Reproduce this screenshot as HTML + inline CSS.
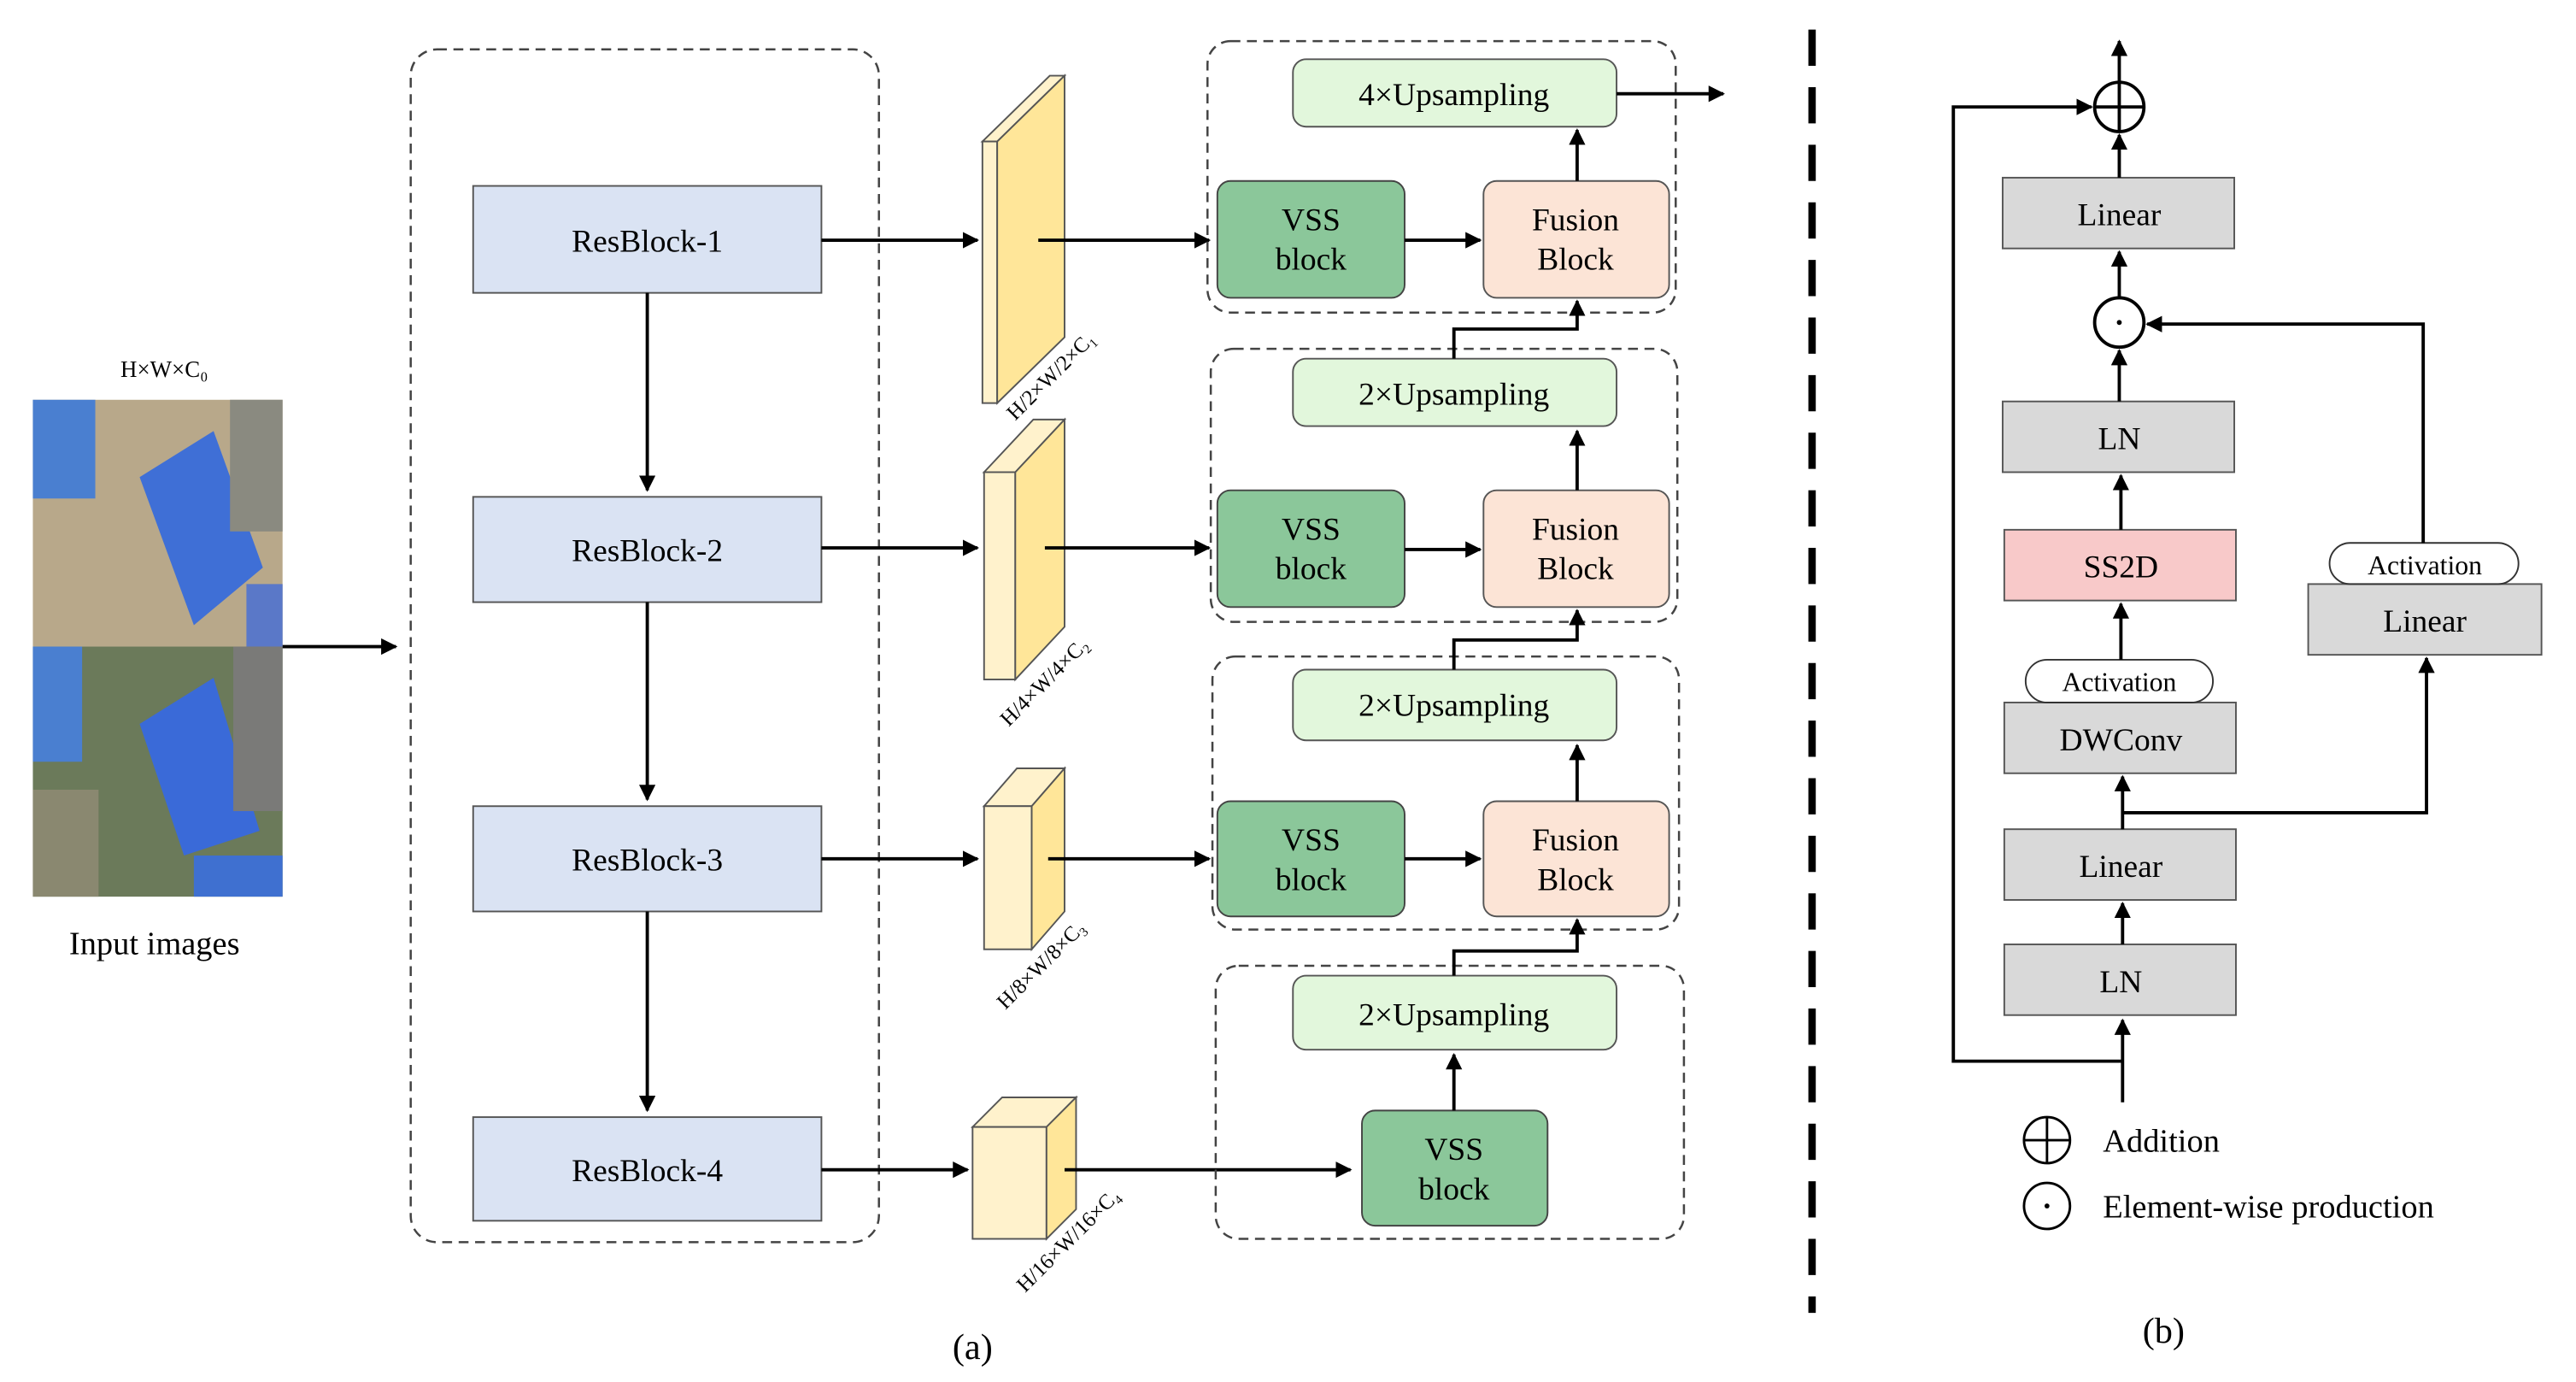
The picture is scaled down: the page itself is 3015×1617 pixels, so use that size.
<!DOCTYPE html>
<html><head><meta charset="utf-8"><style>html,body{margin:0;padding:0;background:#fff}svg{display:block}</style></head><body>
<svg width="3015" height="1617" viewBox="0 0 1568 840" preserveAspectRatio="none" xmlns="http://www.w3.org/2000/svg" font-family="Liberation Serif, serif">
<defs>
<marker id="ah" viewBox="0 0 10 10" refX="9" refY="5" markerWidth="5" markerHeight="5" orient="auto-start-reverse" markerUnits="strokeWidth"><path d="M0,0 L10,5 L0,10 z" fill="#000"/></marker>
</defs>
<rect width="1568" height="840" fill="#fff"/>
<text x="100" y="229" font-size="14" text-anchor="middle">H×W×C₀</text>
<g>
<rect x="20" y="243" width="152" height="150" fill="#b8a88a"/>
<rect x="20" y="243" width="38" height="60" fill="#4a7fd0"/>
<polygon points="85,290 130,262 160,345 118,380" fill="#3f6fd6"/>
<rect x="140" y="243" width="32" height="80" fill="#8a8a80"/>
<rect x="150" y="355" width="22" height="38" fill="#5a78c8"/>
<rect x="20" y="393" width="152" height="152" fill="#6b7a5a"/>
<rect x="20" y="393" width="30" height="70" fill="#4a7fd0"/>
<polygon points="85,440 130,412 158,505 112,520" fill="#3a6ad8"/>
<rect x="142" y="393" width="30" height="100" fill="#7a7a78"/>
<rect x="118" y="520" width="54" height="25" fill="#3f70d0"/>
<rect x="20" y="480" width="40" height="65" fill="#8a8870"/>
</g>
<text x="94" y="580" font-size="20" text-anchor="middle">Input images</text>
<line x1="172" y1="393" x2="241" y2="393" stroke="#000" stroke-width="2" marker-end="url(#ah)"/>
<rect x="250" y="30" width="285" height="725" rx="16" fill="none" stroke="#444" stroke-width="1.3" stroke-dasharray="6,4"/>
<g fill="#dae3f3" stroke="#555" stroke-width="1">
<rect x="288" y="113" width="212" height="65"/><rect x="288" y="302" width="212" height="64"/>
<rect x="288" y="490" width="212" height="64"/><rect x="288" y="679" width="212" height="63"/></g>
<g font-size="19.5" text-anchor="middle">
<text x="394" y="153">ResBlock-1</text><text x="394" y="341">ResBlock-2</text>
<text x="394" y="529">ResBlock-3</text><text x="394" y="718">ResBlock-4</text></g>
<g stroke="#000" stroke-width="2" marker-end="url(#ah)">
<line x1="394" y1="178" x2="394" y2="298"/><line x1="394" y1="366" x2="394" y2="486"/><line x1="394" y1="554" x2="394" y2="675"/>
<line x1="500" y1="146" x2="595" y2="146"/><line x1="500" y1="333" x2="595" y2="333"/><line x1="500" y1="522" x2="595" y2="522"/><line x1="500" y1="711" x2="589" y2="711"/>
</g>
<g stroke="#555" stroke-width="1">
<polygon points="598,86 607,86 648,46 639,46" fill="#fff2cc"/>
<rect x="598" y="86" width="9" height="159" fill="#fff2cc"/>
<polygon points="607,86 648,46 648,205 607,245" fill="#ffe699"/>
<polygon points="599,287 618,287 648,255 629,255" fill="#fff2cc"/>
<rect x="599" y="287" width="19" height="126" fill="#fff2cc"/>
<polygon points="618,287 648,255 648,381 618,413" fill="#ffe699"/>
<polygon points="599,490 628,490 648,467 619,467" fill="#fff2cc"/>
<rect x="599" y="490" width="29" height="87" fill="#fff2cc"/>
<polygon points="628,490 648,467 648,554 628,577" fill="#ffe699"/>
<polygon points="592,685 637,685 655,667 610,667" fill="#fff2cc"/>
<rect x="592" y="685" width="45" height="68" fill="#fff2cc"/>
<polygon points="637,685 655,667 655,735 637,753" fill="#ffe699"/>
</g>
<g font-size="13">
<text transform="translate(618,256) rotate(-45)">H/2×W/2×C₁</text>
<text transform="translate(614,442) rotate(-45)">H/4×W/4×C₂</text>
<text transform="translate(612,614) rotate(-45)">H/8×W/8×C₃</text>
<text transform="translate(624,786) rotate(-45)">H/16×W/16×C₄</text>
</g>
<g stroke="#000" stroke-width="2" marker-end="url(#ah)">
<line x1="632" y1="146" x2="736" y2="146"/><line x1="636" y1="333" x2="736" y2="333"/><line x1="638" y1="522" x2="736" y2="522"/><line x1="648" y1="711" x2="822" y2="711"/>
</g>
<g fill="none" stroke="#444" stroke-width="1.3" stroke-dasharray="6,4">
<rect x="735" y="25" width="285" height="165" rx="14"/><rect x="737" y="212" width="284" height="166" rx="14"/>
<rect x="738" y="399" width="284" height="166" rx="14"/><rect x="740" y="587" width="285" height="166" rx="14"/></g>
<g fill="#e2f7dc" stroke="#555" stroke-width="1">
<rect x="787" y="36" width="197" height="41" rx="8"/><rect x="787" y="218" width="197" height="41" rx="8"/>
<rect x="787" y="407" width="197" height="43" rx="8"/><rect x="787" y="593" width="197" height="45" rx="8"/></g>
<g fill="#8bc79a" stroke="#444" stroke-width="1">
<rect x="741" y="110" width="114" height="71" rx="8"/><rect x="741" y="298" width="114" height="71" rx="8"/>
<rect x="741" y="487" width="114" height="70" rx="8"/><rect x="829" y="675" width="113" height="70" rx="8"/></g>
<g fill="#fce4d6" stroke="#555" stroke-width="1">
<rect x="903" y="110" width="113" height="71" rx="8"/><rect x="903" y="298" width="113" height="71" rx="8"/>
<rect x="903" y="487" width="113" height="70" rx="8"/></g>
<g font-size="19.5" text-anchor="middle">
<text x="885" y="64">4×Upsampling</text><text x="885" y="246">2×Upsampling</text>
<text x="885" y="435">2×Upsampling</text><text x="885" y="623">2×Upsampling</text>
<text x="798" y="140">VSS</text><text x="798" y="164">block</text>
<text x="798" y="328">VSS</text><text x="798" y="352">block</text>
<text x="798" y="517">VSS</text><text x="798" y="541">block</text>
<text x="885" y="705">VSS</text><text x="885" y="729">block</text>
<text x="959" y="140">Fusion</text><text x="959" y="164">Block</text>
<text x="959" y="328">Fusion</text><text x="959" y="352">Block</text>
<text x="959" y="517">Fusion</text><text x="959" y="541">Block</text>
</g>
<g stroke="#000" stroke-width="2" fill="none" marker-end="url(#ah)">
<line x1="855" y1="146" x2="901" y2="146"/><line x1="855" y1="334" x2="901" y2="334"/><line x1="855" y1="522" x2="901" y2="522"/>
<line x1="960" y1="110" x2="960" y2="79"/><line x1="960" y1="298" x2="960" y2="262"/><line x1="960" y1="487" x2="960" y2="453"/>
<polyline points="885,218 885,200 960,200 960,183"/><polyline points="885,407 885,389 960,389 960,371"/><polyline points="885,593 885,578 960,578 960,559"/>
<line x1="885" y1="675" x2="885" y2="641"/>
<line x1="984" y1="57" x2="1049" y2="57"/>
</g>
<line x1="1103" y1="18" x2="1103" y2="798" stroke="#000" stroke-width="4.5" stroke-dasharray="22,13"/>
<text x="592" y="826" font-size="22" text-anchor="middle">(a)</text>
<text x="1317" y="816" font-size="22" text-anchor="middle">(b)</text>
<g stroke="#555" stroke-width="1" fill="#d9d9d9">
<rect x="1219" y="108" width="141" height="43"/><rect x="1219" y="244" width="141" height="43"/>
<rect x="1220" y="322" width="141" height="43" fill="#f8c9c9"/>
<rect x="1220" y="427" width="141" height="43"/><rect x="1220" y="504" width="141" height="43"/>
<rect x="1220" y="574" width="141" height="43"/><rect x="1405" y="355" width="142" height="43"/>
<rect x="1233" y="401" width="114" height="26" rx="13" fill="#fff" stroke="#333"/>
<rect x="1418" y="330" width="115" height="25" rx="12.5" fill="#fff" stroke="#333"/>
</g>
<g font-size="19.5" text-anchor="middle">
<text x="1290" y="137">Linear</text><text x="1290" y="273">LN</text><text x="1291" y="351">SS2D</text>
<text x="1291" y="456">DWConv</text><text x="1291" y="533">Linear</text><text x="1291" y="603">LN</text>
<text x="1476" y="384">Linear</text>
<text x="1290" y="420" font-size="16.5">Activation</text><text x="1476" y="349" font-size="16.5">Activation</text>
</g>
<g stroke="#000" stroke-width="2" fill="none">
<circle cx="1290" cy="65" r="15"/><line x1="1275" y1="65" x2="1305" y2="65"/><line x1="1290" y1="50" x2="1290" y2="80"/>
<circle cx="1290" cy="196" r="15"/>
<circle cx="1246" cy="693" r="14" stroke-width="1.5"/><line x1="1232" y1="693" x2="1260" y2="693" stroke-width="1.5"/><line x1="1246" y1="679" x2="1246" y2="707" stroke-width="1.5"/>
<circle cx="1246" cy="733" r="14" stroke-width="1.5"/>
</g>
<circle cx="1290" cy="196" r="1.5" fill="#000"/><circle cx="1246" cy="733" r="1.5" fill="#000"/>
<g stroke="#000" stroke-width="2" fill="none" marker-end="url(#ah)">
<line x1="1292" y1="670" x2="1292" y2="620"/>
<polyline points="1292,645 1189,645 1189,65 1273,65"/>
<line x1="1292" y1="574" x2="1292" y2="549"/>
<line x1="1292" y1="504" x2="1292" y2="472"/>
<polyline points="1292,494 1477,494 1477,400"/>
<line x1="1291" y1="401" x2="1291" y2="367"/>
<line x1="1291" y1="322" x2="1291" y2="289"/>
<line x1="1290" y1="244" x2="1290" y2="213"/>
<line x1="1290" y1="181" x2="1290" y2="153"/>
<line x1="1290" y1="108" x2="1290" y2="82"/>
<line x1="1290" y1="50" x2="1290" y2="25"/>
<polyline points="1475,330 1475,197 1307,197"/>
</g>
<text x="1280" y="700" font-size="20">Addition</text>
<text x="1280" y="740" font-size="20">Element-wise production</text>
</svg>
</body></html>
